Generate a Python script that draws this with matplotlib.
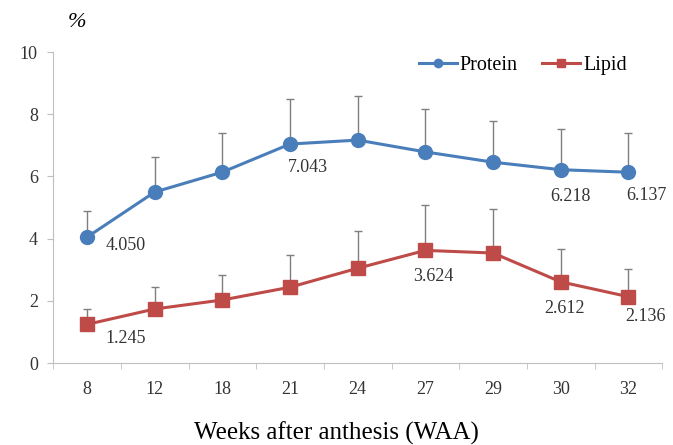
import numpy as np
import matplotlib.pyplot as plt

weeks = ['8', '12', '18', '21', '24', '27', '29', '30', '32']
protein = [4.050, 5.50, 6.14, 7.043, 7.17, 6.79, 6.46, 6.218, 6.137]
protein_err = [0.83, 1.12, 1.26, 1.45, 1.42, 1.38, 1.32, 1.30, 1.26]
lipid = [1.245, 1.74, 2.03, 2.44, 3.05, 3.624, 3.54, 2.612, 2.136]
lipid_err = [0.50, 0.70, 0.80, 1.03, 1.19, 1.46, 1.40, 1.06, 0.88]

# which points get a value label, and where the label centre sits (dx, dy in points)
protein_labels = {0: (28, -6), 3: (13, -17), 7: (7, -19), 8: (13, -17)}
lipid_labels = {0: (28, -10), 5: (6, -19), 7: (3, -19), 8: (12, -14)}

plt.rcParams['font.family'] = ['Liberation Serif', 'DejaVu Serif']

fig = plt.figure(figsize=(6.73, 4.45), dpi=100)
ax = fig.add_axes([0.079, 0.184, 0.905, 0.699])

x = np.arange(len(weeks))
blue = '#4A7EBB'
red = '#BE4B48'

ax.errorbar(x, protein, yerr=[np.zeros(len(x)), protein_err], fmt='none',
            ecolor='#7f7f7f', elinewidth=1.0, capsize=3, capthick=1.0, zorder=2)
ax.errorbar(x, lipid, yerr=[np.zeros(len(x)), lipid_err], fmt='none',
            ecolor='#7f7f7f', elinewidth=1.0, capsize=3, capthick=1.0, zorder=2)
ax.plot(x, protein, color=blue, lw=2.2, marker='o', ms=10, label='Protein', zorder=3)
ax.plot(x, lipid, color=red, lw=2.2, marker='s', ms=10, label='Lipid', zorder=3)

for i, (dx, dy) in protein_labels.items():
    ax.annotate(f'{protein[i]:.3f}', (x[i], protein[i]), xytext=(dx, dy),
                textcoords='offset points', ha='center', va='center',
                fontsize=13, color='#333333')
for i, (dx, dy) in lipid_labels.items():
    ax.annotate(f'{lipid[i]:.3f}', (x[i], lipid[i]), xytext=(dx, dy),
                textcoords='offset points', ha='center', va='center',
                fontsize=13, color='#333333')

ax.set_xlim(-0.5, len(weeks) - 0.5)
ax.set_ylim(0, 10)
ax.set_yticks([0, 2, 4, 6, 8, 10])
ax.set_xticks(x)
ax.set_xticklabels(weeks)
ax.set_xticks(np.arange(len(weeks) + 1) - 0.5, minor=True)
ax.tick_params(axis='x', which='major', length=0, pad=13, labelsize=13, labelcolor='#333333')
ax.tick_params(axis='x', which='minor', length=4, color='#bfbfbf', direction='out')
ax.tick_params(axis='y', length=4, color='#bfbfbf', labelsize=13, labelcolor='#333333', pad=7)

for side in ['top', 'right']:
    ax.spines[side].set_visible(False)
ax.spines['left'].set_color('#bfbfbf')
ax.spines['bottom'].set_color('#bfbfbf')

ax.legend(loc='center left', bbox_to_anchor=(0.60, 0.958), ncol=2, frameon=False,
          fontsize=14.5, handlelength=1.9, handletextpad=0.15, columnspacing=1.2,
          borderpad=0, borderaxespad=0, markerscale=0.6)

fig.text(0.1, 0.95, '%', fontsize=16, style='italic', ha='left', va='center')
fig.text(0.5, 0.027, 'Weeks after anthesis (WAA)', fontsize=18, ha='center', va='center')

fig.savefig('out.png', dpi=100)
